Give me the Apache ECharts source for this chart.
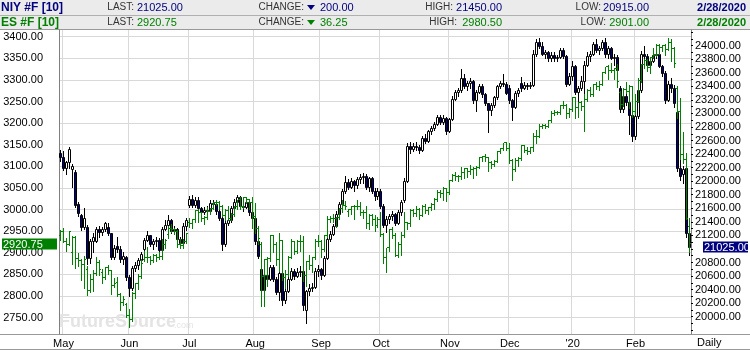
<!DOCTYPE html>
<html><head><meta charset="utf-8">
<script src="https://cdn.jsdelivr.net/npm/echarts@6/dist/echarts.min.js"></script>
<style>html,body{margin:0;padding:0;background:#fff}#c{width:750px;height:350px}</style>
</head><body><div id="c"></div>
<script>
// ---- calendar (trading days) ----
const startDate = '2019-04-30', endDate = '2020-02-28';
const holidays = ['2019-05-27','2019-07-04','2019-09-02','2019-11-28','2019-12-25','2020-01-01','2020-01-20','2020-02-17'];
const monthLabels = ["'20","Feb","Mar","Apr","May","Jun","Jul","Aug","Sep","Oct","Nov","Dec"];

// ---- tick labels ----
const leftTicks = [2750,2800,2850,2900,2950,3000,3050,3100,3150,3200,3250,3300,3350,3400];
const rightTicks = [20000,20200,20400,20600,20800,21000,21200,21400,21600,21800,22000,22200,22400,22600,22800,23000,23200,23400,23600,23800,24000];
const rightMinor = [19800,19900,20000,20100,20200,20300,20400,20500,20600,20700,20800,20900,21000,21100,21200,21300,21400,21500,21600,21700,21800,21900,22000,22100,22200,22300,22400,22500,22600,22700,22800,22900,23000,23100,23200,23300,23400,23500,23600,23700,23800,23900,24000,24100,24200];

// ---- ES #F daily bars [open, high, low, close] ----
const esBars = [
[2940,2952,2930,2948],[2948,2958,2925,2926],[2926,2935,2905,2920],[2920,2950,2918,2948],[2900,2938,2873,2935],
[2935,2938,2865,2886],[2886,2900,2870,2882],[2882,2885,2836,2873],[2873,2893,2818,2884],[2860,2870,2801,2813],
[2813,2850,2808,2837],[2837,2860,2812,2853],[2853,2891,2848,2878],[2878,2882,2848,2861],[2855,2862,2830,2842],
[2842,2868,2840,2866],[2866,2871,2850,2858],[2858,2860,2805,2824],[2824,2842,2820,2828],[2830,2843,2800,2804],
[2804,2806,2768,2785],[2785,2800,2780,2791],[2780,2783,2750,2754],[2754,2769,2729,2746],[2746,2808,2742,2805],
[2805,2830,2795,2828],[2828,2850,2815,2845],[2845,2885,2842,2875],[2885,2905,2880,2889],[2889,2913,2878,2888],
[2888,2892,2873,2882],[2882,2898,2878,2894],[2894,2898,2880,2890],[2890,2901,2885,2892],[2892,2932,2885,2920],
[2920,2932,2910,2929],[2942,2962,2935,2956],[2956,2966,2948,2953],[2953,2958,2944,2948],[2948,2952,2914,2920],
[2920,2932,2912,2916],[2916,2932,2912,2927],[2927,2945,2922,2944],[2970,2980,2960,2967],[2967,2977,2958,2976],
[2976,2998,2972,2998],[2998,3000,2970,2993],[2993,2995,2973,2979],[2979,2985,2967,2982],[2982,3005,2978,2996],
[2996,3004,2990,3002],[3002,3018,3000,3016],[3016,3022,3010,3017],[3017,3020,3002,3006],[3006,3010,2985,2987],
[2987,3000,2975,2998],[2998,3008,2976,2979],[2979,2992,2975,2988],[2988,3008,2985,3008],[3008,3022,3000,3022],
[3022,3028,3000,3006],[3006,3029,3004,3028],[3028,3030,3015,3023],[3023,3025,3002,3016],[3016,3030,2957,2983],
[2983,3015,2945,2955],[2955,2961,2921,2934],[2920,2925,2776,2846],[2846,2885,2777,2884],[2884,2890,2822,2886],
[2886,2940,2880,2939],[2939,2942,2901,2920],[2920,2925,2872,2884],[2884,2945,2858,2928],[2928,2930,2836,2842],
[2842,2860,2818,2850],[2850,2893,2846,2890],[2890,2932,2888,2925],[2925,2928,2898,2902],[2902,2930,2900,2926],
[2926,2940,2905,2925],[2925,2939,2834,2848],[2848,2880,2822,2880],[2880,2895,2862,2870],[2870,2890,2855,2889],
[2889,2932,2885,2926],[2926,2941,2915,2927],[2927,2930,2890,2907],[2907,2940,2905,2939],[2939,2985,2937,2978],
[2978,2986,2970,2980],[2980,2990,2970,2980],[2980,2982,2960,2981],[2981,3003,2978,3002],[3002,3021,2995,3010],
[3010,3020,3002,3008],[2995,3002,2985,2999],[2999,3008,2990,3006],[3006,3010,2978,3008],[3008,3022,3000,3007],
[3007,3017,2988,2993],[2993,2998,2980,2993],[2993,3008,2958,2968],[2968,2990,2955,2986],[2986,2990,2965,2978],
[2978,2988,2950,2962],[2962,2983,2960,2978],[2978,2995,2938,2941],[2941,2945,2875,2888],[2888,2912,2855,2911],
[2911,2954,2905,2953],[2953,2960,2935,2940],[2940,2945,2892,2894],[2894,2925,2890,2920],[2920,2948,2895,2939],
[2939,2995,2937,2971],[2971,2972,2955,2967],[2967,3000,2962,2997],[2997,3000,2985,2990],[2990,3008,2985,2999],
[2999,3004,2978,2987],[2987,3010,2986,3008],[3008,3013,2993,2997],[2997,3006,2990,3005],[3005,3015,2998,3011],
[3011,3026,3002,3024],[3024,3044,3020,3040],[3040,3046,3030,3038],[3038,3052,3022,3048],[3048,3050,3020,3039],
[3039,3068,3035,3067],[3067,3083,3065,3079],[3079,3086,3068,3076],[3076,3080,3065,3077],[3077,3098,3070,3086],
[3086,3095,3072,3094],[3094,3095,3075,3088],[3088,3102,3083,3092],[3092,3098,3072,3095],[3095,3100,3080,3097],
[3097,3121,3095,3121],[3121,3124,3112,3122],[3122,3128,3112,3121],[3121,3122,3090,3109],[3109,3112,3095,3104],
[3104,3115,3100,3111],[3111,3135,3110,3134],[3134,3142,3130,3141],[3141,3155,3138,3154],[3154,3156,3138,3142],
[3142,3155,3108,3114],[3114,3116,3069,3093],[3093,3120,3090,3113],[3113,3122,3100,3118],[3118,3150,3115,3147],
[3147,3149,3133,3137],[3137,3145,3128,3134],[3134,3145,3130,3143],[3143,3178,3136,3170],[3170,3183,3153,3170],
[3170,3198,3168,3193],[3193,3198,3188,3194],[3194,3199,3188,3192],[3192,3207,3190,3206],[3206,3227,3203,3222],
[3222,3230,3218,3225],[3225,3228,3220,3224],[3224,3242,3222,3241],[3241,3250,3236,3241],[3241,3245,3212,3222],
[3222,3234,3214,3231],[3231,3260,3228,3259],[3259,3260,3211,3236],[3236,3248,3213,3247],[3247,3250,3230,3238],
[3238,3268,3182,3254],[3254,3278,3252,3275],[3275,3283,3263,3266],[3266,3290,3263,3289],[3289,3295,3278,3284],
[3284,3298,3277,3290],[3290,3318,3288,3317],[3317,3330,3315,3330],[3330,3334,3303,3321],[3321,3338,3318,3322],
[3322,3328,3302,3326],[3326,3336,3283,3296],[3270,3275,3235,3244],[3244,3282,3240,3277],[3277,3295,3270,3273],
[3273,3288,3235,3284],[3284,3287,3214,3226],[3226,3268,3222,3249],[3249,3305,3248,3298],[3298,3336,3295,3335],
[3335,3348,3328,3346],[3346,3348,3320,3328],[3328,3353,3315,3352],[3352,3373,3350,3358],[3358,3382,3356,3380],
[3380,3384,3360,3374],[3374,3381,3366,3380],[3380,3383,3357,3371],[3371,3397,3369,3386],[3386,3394,3344,3373],
[3373,3376,3330,3338],[3280,3286,3212,3226],[3226,3258,3118,3128],[3128,3180,3108,3116],[3116,3130,2977,2979],
[2960,2980.5,2901,2920.75]
];

// ---- NIY #F daily bars [open, high, low, close] ----
const niyBars = [
[22420,22460,22300,22350],[22350,22440,22160,22190],[22190,22300,22100,22290],[22290,22510,22200,22480],[22180,22250,21920,22220],
[22140,22160,21620,21650],[21660,21700,21480,21530],[21500,21520,21280,21330],[21330,21600,21300,21450],[21330,21350,20780,20870],
[20870,21150,20790,21110],[21110,21230,20960,21180],[21120,21330,21100,21300],[21300,21340,21180,21250],[21250,21330,21200,21290],
[21290,21400,21260,21380],[21330,21380,21200,21230],[21230,21240,20850,20880],[20880,21060,20850,21020],[21050,21180,20960,21000],
[21000,21040,20800,20850],[20850,20950,20780,20900],[20880,20900,20540,20580],[20580,20620,20300,20420],[20420,20750,20400,20720],
[20720,20800,20680,20760],[20760,20860,20700,20840],[20840,20960,20800,20920],[21000,21160,20980,21130],[21130,21260,21120,21200],
[21200,21210,21050,21080],[21080,21150,21000,21110],[21110,21180,21050,21130],[21130,21160,20950,20990],[20990,21330,20960,21300],
[21300,21420,21280,21350],[21350,21500,21300,21430],[21430,21440,21230,21260],[21260,21340,21220,21300],[21300,21310,21120,21150],
[21150,21180,21060,21090],[21090,21380,21080,21340],[21340,21450,21280,21420],[21650,21780,21620,21740],[21740,21790,21620,21650],
[21650,21760,21620,21720],[21720,21760,21550,21600],[21600,21620,21500,21540],[21540,21620,21520,21580],[21580,21640,21480,21560],
[21560,21720,21550,21680],[21680,21720,21600,21660],[21660,21680,21520,21560],[21560,21580,21420,21460],[21460,21480,20990,21080],
[21080,21420,21050,21380],[21380,21480,21350,21420],[21420,21640,21400,21600],[21600,21740,21580,21700],[21700,21800,21680,21760],
[21760,21780,21600,21640],[21640,21680,21560,21620],[21620,21720,21600,21700],[21700,21720,21500,21540],[21540,21640,21400,21460],
[21460,21580,21080,21120],[21120,21130,20860,20890],[20700,20740,20280,20400],[20400,20650,20350,20610],[20610,20700,20450,20560],
[20560,20760,20540,20730],[20730,20760,20520,20560],[20560,20580,20330,20370],[20370,20700,20240,20650],[20650,20680,20180,20250],
[20250,20420,20200,20380],[20380,20580,20360,20560],[20560,20720,20540,20680],[20680,20700,20560,20600],[20600,20720,20580,20660],
[20660,20750,20600,20680],[20680,20740,20100,20180],[20100,20400,19900,20380],[20380,20480,20320,20420],[20420,20500,20380,20440],
[20440,20720,20430,20680],[20680,20760,20600,20700],[20700,20720,20560,20620],[20620,20900,20600,20860],[20860,21200,20850,21150],
[21150,21260,21120,21220],[21220,21370,21200,21340],[21340,21560,21320,21520],[21520,21700,21500,21660],[21660,21880,21640,21850],
[21850,22080,21820,21990],[21990,22030,21880,21920],[21920,22040,21900,22000],[22000,22020,21860,21940],[21940,22060,21900,22030],
[22030,22100,21980,22060],[22060,22120,21980,22080],[22080,22100,21880,21920],[21920,22060,21860,22040],[22040,22060,21820,21860],
[21860,21900,21720,21780],[21780,21900,21740,21860],[21860,21880,21600,21640],[21640,21660,21320,21360],[21360,21480,21250,21440],
[21440,21520,21380,21480],[21480,21560,21420,21520],[21520,21530,21350,21390],[21390,21580,21370,21540],[21540,21720,21500,21700],
[21720,22050,21700,22010],[22010,22560,21990,22520],[22520,22580,22420,22470],[22470,22560,22440,22520],[22520,22580,22460,22500],
[22500,22540,22420,22460],[22460,22660,22450,22640],[22640,22700,22560,22600],[22600,22760,22580,22740],[22740,22820,22700,22790],
[22790,22880,22760,22850],[22850,22980,22830,22950],[22950,22980,22840,22870],[22870,22970,22840,22940],[22940,22950,22700,22740],
[22740,22940,22720,22920],[22920,23260,22900,23220],[23220,23340,23200,23320],[23320,23380,23260,23340],[23340,23660,23320,23520],
[23520,23580,23380,23400],[23400,23480,23350,23450],[23450,23520,23380,23480],[23480,23500,23160,23200],[23200,23350,23030,23320],
[23320,23440,23300,23410],[23410,23430,23250,23280],[23280,23300,23120,23150],[23150,23160,22730,23050],[23050,23150,22980,23120],
[23120,23260,23100,23240],[23240,23420,23220,23400],[23400,23480,23370,23450],[23450,23580,23400,23440],[23440,23460,23280,23300],
[23380,23420,23150,23200],[23200,23220,22900,23100],[23100,23330,23080,23300],[23300,23380,23260,23340],[23450,23540,23330,23380],
[23380,23460,23360,23420],[23420,23450,23360,23400],[23400,23460,23370,23420],[23420,23930,23400,23880],[23880,24100,23850,24060],
[24060,24110,23960,23990],[23990,24050,23860,23880],[23880,23930,23820,23900],[23900,23920,23780,23820],[23820,23900,23780,23860],
[23860,23900,23780,23820],[23820,23860,23780,23830],[23830,23960,23820,23930],[23930,23960,23820,23850],[23850,23860,23400,23440],
[23440,23600,23420,23560],[23560,23780,23500,23700],[23700,23720,23280,23320],[23320,23400,23150,23380],[23380,23560,23340,23480],
[23480,23780,22950,23720],[23720,23900,23700,23850],[23850,23920,23780,23880],[23880,24060,23860,24030],[24030,24100,23900,23940],
[23940,24000,23880,23960],[23960,24080,23940,24060],[24060,24120,23840,23880],[23880,24000,23820,23960],[23960,23980,23800,23820],
[23820,23880,23720,23840],[23840,23860,23580,23640],[23380,23400,23020,23060],[23060,23300,23020,23260],[23260,23320,23120,23170],
[23170,23220,22700,22980],[22980,23000,22600,22660],[22660,23000,22620,22960],[22960,23380,22940,23340],[23340,23920,23320,23880],
[23880,24000,23800,23850],[23850,23880,23680,23720],[23720,23800,23660,23780],[23780,23900,23760,23870],[23870,23920,23820,23880],
[23880,23890,23680,23700],[23700,23720,23560,23600],[23600,23620,23160,23200],[23200,23480,23180,23440],[23440,23520,23320,23380],
[23380,23420,23100,23150],[23020,23040,22150,22200],[22200,22320,22020,22080],[22100,22220,21980,22180],[22200,22230,21180,21240],
[21240,21450,20915,21025]
];

// ---- header quote fields ----
const niyQuote = {sym: 'NIY #F [10]', last: '21025.00', change: '200.00', high: '21450.00', low: '20915.00', date: '2/28/2020'};
const esQuote  = {sym: 'ES #F [10]',  last: '2920.75',  change: '36.25',  high: '2980.50',  low: '2901.00',  date: '2/28/2020'};

const NAVY = '#000080', GREEN = '#008000', GRID = '#d9d9d9';
const FONT = "'Liberation Sans', Arial, sans-serif";

// build trading-day categories
const dates = [];
(function(){
  let d = new Date(startDate + 'T00:00:00Z');
  const end = new Date(endDate + 'T00:00:00Z');
  while (d <= end) {
    const s = d.toISOString().slice(0,10);
    const wd = d.getUTCDay();
    if (wd !== 0 && wd !== 6 && holidays.indexOf(s) < 0) dates.push(s);
    d = new Date(d.getTime() + 86400000);
  }
})();
const isMonthStart = dates.map((s,i) => i > 0 && s.slice(5,7) !== dates[i-1].slice(5,7));

const esData = esBars.map((b,i) => [i, b[0], b[1], b[2], b[3]]);
const niyData = niyBars.map((b,i) => [i, b[0], b[1], b[2], b[3]]);
const esLast = esBars[esBars.length - 1][3];
const niyLast = niyBars[niyBars.length - 1][3];

function renderOHLC(params, api) {
  const i = api.value(0);
  const pO = api.coord([i, api.value(1)]);
  const pH = api.coord([i, api.value(2)]);
  const pL = api.coord([i, api.value(3)]);
  const pC = api.coord([i, api.value(4)]);
  const n = Math.round(pO[0] - 0.5);
  const x = n + 0.5;
  const yo = Math.round(pO[1] - 0.5) + 0.5, yc = Math.round(pC[1] - 0.5) + 0.5;
  const st = {stroke: GREEN, lineWidth: 1};
  return {type: 'group', children: [
    {type: 'line', shape: {x1: x, y1: Math.round(pH[1]), x2: x, y2: Math.round(pL[1]) + 1}, style: st},
    {type: 'line', shape: {x1: n - 1, y1: yo, x2: n, y2: yo}, style: st},
    {type: 'line', shape: {x1: n + 1, y1: yc, x2: n + 2, y2: yc}, style: st}
  ]};
}

function renderCandle(params, api) {
  const i = api.value(0);
  const o = api.value(1), c = api.value(4);
  const pO = api.coord([i, o]);
  const pH = api.coord([i, api.value(2)]);
  const pL = api.coord([i, api.value(3)]);
  const pC = api.coord([i, c]);
  const n = Math.round(pO[0] - 0.5);
  let top = Math.round(Math.min(pO[1], pC[1]));
  let bot = Math.round(Math.max(pO[1], pC[1]));
  if (bot - top < 1) bot = top + 1;
  return {type: 'group', children: [
    {type: 'line', shape: {x1: n + 0.5, y1: Math.round(pH[1]), x2: n + 0.5, y2: Math.round(pL[1]) + 1}, style: {stroke: '#000', lineWidth: 1}},
    {type: 'rect', shape: {x: n - 0.5, y: top + 0.5, width: 2, height: bot - top}, style: {fill: c >= o ? '#ffffff' : NAVY, stroke: '#000', lineWidth: 1}}
  ]};
}

const chart = echarts.init(document.getElementById('c'), null, {renderer: 'canvas'});
const option = {
  animation: false,
  backgroundColor: '#fff',
  textStyle: {fontFamily: FONT},
  grid: {left: 59, right: 59, top: 30, bottom: 16},
  xAxis: {
    type: 'category', data: dates, boundaryGap: true,
    axisLine: {show: false}, axisTick: {show: false},
    axisLabel: {
      interval: (i) => isMonthStart[i],
      formatter: (v) => monthLabels[parseInt(v.slice(5,7),10) - 1],
      color: '#000', fontSize: 11, fontFamily: FONT, margin: 4
    },
    splitLine: {show: true, interval: (i) => isMonthStart[i], lineStyle: {color: GRID, width: 1}}
  },
  yAxis: [
    {
      type: 'value', position: 'left', min: 2711.8, max: 3415.5,
      axisLine: {show: true, lineStyle: {color: '#808080', width: 1}},
      axisTick: {show: false, customValues: leftTicks},
      axisLabel: {customValues: leftTicks, formatter: (v) => v.toFixed(2), color: '#000', fontSize: 11, fontFamily: FONT, margin: 16},
      splitLine: {show: true, lineStyle: {color: GRID, width: 1}}
    },
    {
      type: 'value', position: 'right', min: 19744.6, max: 24231.7,
      axisLine: {show: true, lineStyle: {color: '#808080', width: 1}},
      axisTick: {show: true, customValues: rightMinor, length: 2, inside: false, lineStyle: {color: '#000', width: 1}},
      axisLabel: {customValues: rightTicks, formatter: (v) => Math.abs(v - niyLast) < 100 ? '' : v.toFixed(2), color: '#000', fontSize: 11, fontFamily: FONT, margin: 4},
      splitLine: {show: false}
    }
  ],
  series: [
    {
      name: 'NIY', type: 'custom', yAxisIndex: 1, data: niyData, renderItem: renderCandle, z: 3, clip: true,
      encode: {x: 0, y: [1,2,3,4]}
    },
    {
      name: 'ES', type: 'custom', yAxisIndex: 0, data: esData, renderItem: renderOHLC, z: 4, clip: true,
      encode: {x: 0, y: [1,2,3,4]}
    }
  ],
  graphic: []
};
chart.setOption(option);

// ---- header / frame graphics ----
function txt(x, y, text, opts) {
  return {type: 'text', x: x, y: y, style: Object.assign({text: text, fontFamily: FONT, fontSize: 10, fill: '#333', textVerticalAlign: 'middle', verticalAlign: 'middle'}, opts || {})};
}
function row(q, y, color, hx, lx) {
  const f11 = {fontSize: 11, fill: color};
  const R = {align: 'right', textAlign: 'right'};
  return [
    txt(1, y, q.sym, {fontSize: 12, fontWeight: 'bold', fill: color}),
    txt(134, y, 'LAST:', R),
    txt(137, y, q.last, f11),
    txt(304, y, 'CHANGE:', R),
    {type: 'polygon', shape: {points: [[307, y - 2.5], [315, y - 2.5], [311, y + 2.5]]}, style: {fill: color}},
    txt(320, y, q.change, f11),
    txt(hx, y, 'HIGH:', R),
    txt(502, y, q.high, Object.assign({}, R, f11)),
    txt(lx, y, 'LOW:', R),
    txt(649, y, q.low, Object.assign({}, R, f11)),
    txt(746, y, q.date, Object.assign({}, R, {fontSize: 11, fontWeight: 'bold', fill: color}))
  ];
}
const g = [
  {type: 'rect', shape: {x: 0, y: 0, width: 750, height: 15}, style: {fill: '#ebebeb'}, z: 0},
  {type: 'rect', shape: {x: 0, y: 15, width: 750, height: 15}, style: {fill: '#ebebeb'}, z: 0},
  {type: 'line', shape: {x1: 0, y1: 15.5, x2: 750, y2: 15.5}, style: {stroke: '#b0b0b0', lineWidth: 1}},
  {type: 'line', shape: {x1: 0, y1: 29.5, x2: 750, y2: 29.5}, style: {stroke: '#999', lineWidth: 1}},
  {type: 'line', shape: {x1: 0, y1: 334.5, x2: 750, y2: 334.5}, style: {stroke: '#999', lineWidth: 1}},
  {type: 'line', shape: {x1: 0, y1: 349.5, x2: 750, y2: 349.5}, style: {stroke: '#999', lineWidth: 1}},
  {type: 'text', x: 59, y: 331, z: 1, style: {text: 'FutureSource', fontFamily: FONT, fontSize: 18, fontWeight: 'bold', fill: '#e4e4e4', textVerticalAlign: 'bottom', verticalAlign: 'bottom'}},
  {type: 'text', x: 174, y: 330, z: 1, style: {text: '.com', fontFamily: FONT, fontSize: 9, fill: '#e4e4e4', textVerticalAlign: 'bottom', verticalAlign: 'bottom'}},
  txt(697, 343, 'Daily', {fontSize: 11, fill: '#000'})
].concat(row(niyQuote, 7.5, NAVY, 453, 601), row(esQuote, 22.5, GREEN, 457, 606));

// last-value boxes on each price axis
const yL = chart.convertToPixel({yAxisIndex: 0}, esLast);
const yR = chart.convertToPixel({yAxisIndex: 1}, niyLast);
g.push(
  {type: 'rect', shape: {x: 2, y: Math.round(yL) - 5.5, width: 55, height: 11}, style: {fill: GREEN}, z: 10},
  txt(3, Math.round(yL) + 0.5, esLast.toFixed(2), {fontSize: 11, fill: '#fff'}),
  {type: 'rect', shape: {x: 703, y: Math.round(yR) - 5.5, width: 45, height: 11}, style: {fill: NAVY}, z: 10},
  txt(704, Math.round(yR) + 0.5, niyLast.toFixed(2), {fontSize: 11, fill: '#fff'})
);
g.forEach(e => { if (e.type === 'text' && e.z === undefined) e.z = 11; });
chart.setOption({graphic: g});
</script></body></html>
